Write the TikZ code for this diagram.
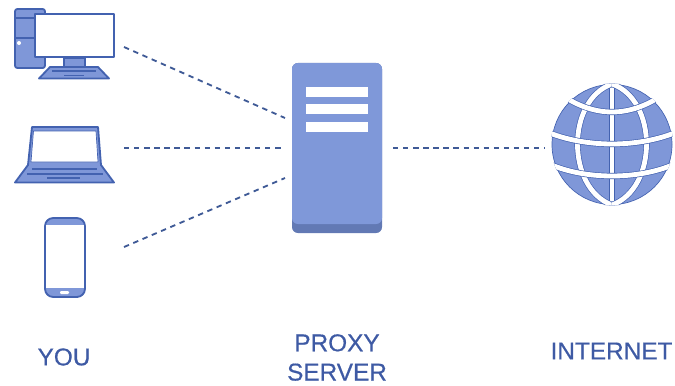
\documentclass[tikz,border=0pt]{standalone}
\usepackage{fontspec}
\setmainfont{Liberation Sans}
\newfontfamily\capfont[FakeBold=0.5]{Liberation Sans}
\definecolor{iconfill}{HTML}{7F97D8}
\definecolor{iconline}{HTML}{4362B0}
\definecolor{serverfill}{HTML}{7F98D9}
\definecolor{serverbase}{HTML}{6279B4}
\definecolor{dashline}{HTML}{3F5A96}
\definecolor{labelblue}{HTML}{3E5AA4}
\tikzset{
  icon/.style={draw=iconline,fill=iconfill,line width=.55mm,line join=round},
  screen/.style={draw=iconline,fill=white,line width=.55mm,line join=round},
  link/.style={draw=dashline,line width=.55mm,dash pattern=on 4.6pt off 4pt},
  caption/.style={text=labelblue,font=\capfont\fontsize{20.8}{25}\selectfont,align=center,inner sep=0pt},
  bar/.style={fill=white},
  gridline/.style={draw=iconline,double=white,double distance=1.45mm,line width=.2mm}
}
\begin{document}
\begin{tikzpicture}[x=.03cm,y=-.03cm]
   \useasboundingbox (0,0) rectangle (675,385);

   % desktop
   \draw[icon,rounded corners=2pt] (15,9) rectangle (45,68);
   \draw[icon] (15,18) -- (45,18);
   \draw[icon] (15,38) -- (45,38);
   \fill[white] (19,43) circle (2);
   \draw[icon] (64,58) rectangle (85,67);
   \draw[icon] (50,67) -- (98,67) -- (109,78.5) -- (39,78.5) -- cycle;
   \draw[iconline,line width=.4mm] (52,71) -- (96,71);
   \draw[iconline,line width=.4mm] (64,75.5) -- (84,75.5);
   \draw[screen,line width=.7mm] (35,14) rectangle (114,57);

   % laptop
   \draw[icon] (32,127) -- (98,127) -- (101,165) -- (114,182.5) -- (15,182.5) -- (28,165) -- cycle;
   \draw[screen,line width=.2mm] (33.5,131) -- (96,131) -- (98,162) -- (31,162) -- cycle;
   \draw[iconline,line width=.4mm] (32,169) -- (97,169);
   \draw[iconline,line width=.4mm] (27,174) -- (103,174);
   \draw[iconline,line width=.4mm] (47,178) -- (80,178);

   % phone
   \draw[icon,rounded corners=7pt] (45,218) rectangle (85,297);
   \fill[white] (46,225) rectangle (84,288);
   \fill[white,rounded corners=1pt] (60,291) rectangle (69,294);

   % server
   \path (337,148) node[fill=serverbase,rounded corners=5pt,minimum width=2.7cm,minimum height=5.1cm,inner sep=0pt] (server) {};
   \fill[serverfill,rounded corners=5pt] (292,63) rectangle (382,224);
   \fill[bar] (306,87) rectangle (368,97);
   \fill[bar] (306,104) rectangle (368,114);
   \fill[bar] (306,122) rectangle (368,132);

   % globe
   \path (612,144.5) node[draw=iconline,fill=iconfill,shape=circle,line width=.2mm,minimum size=3.6cm,inner sep=0pt] (globe) {};
   \begin{scope}
      \clip (612,144.5) circle (61);
      \draw[gridline] (612,80) -- (612,210);
      \draw[gridline] (612,84) .. controls (566,100) and (566,188) .. (612,205);
      \draw[gridline] (612,84) .. controls (658,100) and (658,188) .. (612,205);
      \draw[gridline] (555,90) .. controls (575,106) and (595,112) .. (612,112) .. controls (629,112) and (649,106) .. (669,90);
      \draw[gridline] (545,131) .. controls (565,140) and (590,144) .. (612,144) .. controls (634,144) and (659,140) .. (679,131);
      \draw[gridline] (545,162) .. controls (565,172) and (590,176) .. (612,176) .. controls (634,176) and (659,172) .. (679,162);
   \end{scope}

   % connector ends
   \path (124,47) coordinate (pcend);
   \path (124,148) coordinate (laptopend);
   \path (124,247) coordinate (phoneend);
   \path (285,118) coordinate (serverin1);
   \path (285,148) coordinate (serverin2);
   \path (285,178) coordinate (serverin3);
   \path (393,148) coordinate (serverout);
   \path (545,148) coordinate (globeend);

   \draw[link] (pcend) -- (serverin1);
   \draw[link] (laptopend) -- (serverin2);
   \draw[link] (phoneend) -- (serverin3);
   \draw[link] (serverout) -- (globeend);

   \path (64,357) node[caption] (you) {YOU};
   \path (337,357.5) node[caption] (proxy) {PROXY\\SERVER};
   \path (611.5,351) node[caption] (internet) {INTERNET};
\end{tikzpicture}
\end{document}
